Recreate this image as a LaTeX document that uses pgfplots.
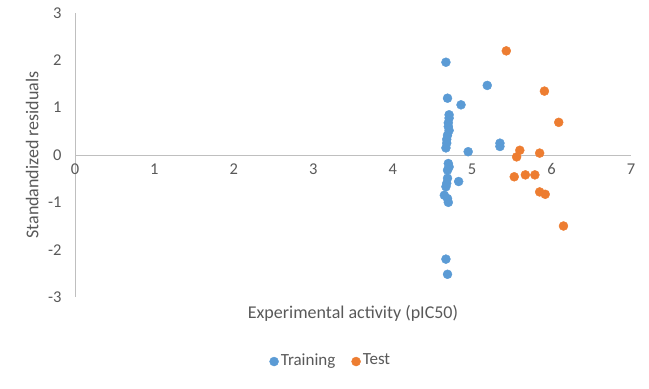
\documentclass[border=0pt]{standalone}
\usepackage{fontspec}
\setmainfont{Carlito}
\usepackage{pgfplots}
\pgfplotsset{compat=1.18}
\definecolor{trainc}{HTML}{5B9BD5}
\definecolor{testc}{HTML}{ED7D31}
\definecolor{txt}{HTML}{595959}
\definecolor{axc}{HTML}{BFBFBF}
\begin{document}
\begin{tikzpicture}
\useasboundingbox (0,0) rectangle (649bp,389bp);
\begin{axis}[
  at={(75bp,92bp)}, anchor=south west,
  scale only axis, width=556bp, height=284bp,
  xmin=0, xmax=7, ymin=-3, ymax=3,
  axis lines=middle,
  axis line style={-, axc, line width=0.8bp},
  xtick={0,1,...,7}, ytick={-3,-2,...,3},
  hide obscured x ticks=false, hide obscured y ticks=false,
  major tick length=0pt,
  /pgf/number format/assume math mode=true,
  tick label style={font=\fontsize{16.5bp}{19bp}\selectfont, text=txt},
  xticklabel style={anchor=north, yshift=-5bp},
  yticklabel style={anchor=east, xshift=-10bp},
  xlabel={Experimental activity (pIC50)},
  ylabel={Standandized residuals},
  label style={font=\fontsize{18bp}{21bp}\selectfont, text=txt},
  xlabel style={at={(axis description cs:0.5,0)}, anchor=north, yshift=-5bp},
  every axis y label/.append style={at={(axis description cs:-0.077,0.5)}, anchor=center, rotate=90},
  legend columns=2,
  legend style={draw=none, at={(axis description cs:0.46,-0.222)}, anchor=center,
    font=\fontsize{17bp}{20bp}\selectfont, text=txt, inner sep=0pt,
    /tikz/every even column/.append style={column sep=14bp}},
  legend image code/.code={\fill[#1] (0.6em,-0.15em) circle (4.5bp);},
  clip=false,
]
\addplot[only marks, mark=*, mark size=4.5bp, color=trainc, mark options={draw=trainc, fill=trainc}] coordinates {
(4.67,1.96) (5.19,1.47) (4.69,1.20) (4.86,1.06) (4.71,0.85)
(4.71,0.78) (4.70,0.68) (4.70,0.60) (4.71,0.52) (4.69,0.42)
(4.68,0.33) (4.68,0.25) (4.67,0.15) (4.95,0.07) (5.35,0.25) (5.35,0.18)
(4.70,-0.18) (4.71,-0.25) (4.69,-0.32) (4.83,-0.56) (4.69,-0.49)
(4.68,-0.60) (4.67,-0.67) (4.65,-0.85) (4.69,-0.92) (4.70,-1.00)
(4.67,-2.20) (4.69,-2.52)
};
\addlegendentry{Training}
\addplot[only marks, mark=*, mark size=4.5bp, color=testc, mark options={draw=testc, fill=testc}] coordinates {
(5.43,2.20) (5.91,1.35) (6.09,0.69) (5.60,0.10) (5.56,-0.04) (5.85,0.04)
(5.53,-0.46) (5.67,-0.42) (5.79,-0.42) (5.85,-0.78) (5.92,-0.83) (6.15,-1.50)
};
\addlegendentry{Test}
\end{axis}
\end{tikzpicture}
\end{document}
